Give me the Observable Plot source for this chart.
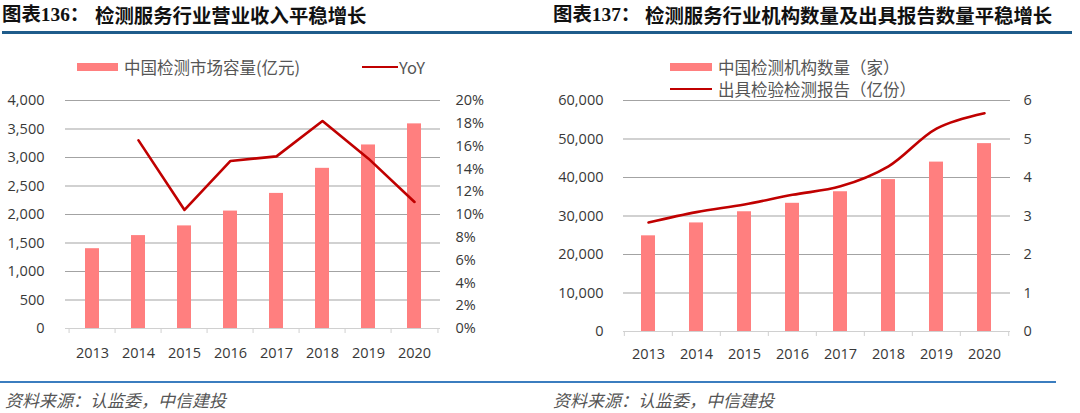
<!DOCTYPE html>
<html><head><meta charset="utf-8">
<script src="https://cdn.jsdelivr.net/npm/d3@7"></script>
<script src="https://cdn.jsdelivr.net/npm/@observablehq/plot@0.6"></script>
<style>
body{margin:0;width:1080px;height:413px;position:relative;overflow:hidden;background:#fff;font-family:"Noto Sans CJK SC",sans-serif;}
.abs{position:absolute;white-space:pre;}
.tpre{font-family:"Liberation Serif","Noto Sans CJK SC",serif;font-weight:bold;font-size:19.4px;line-height:24px;top:3px;color:#111;}
.tmain{font-family:"Noto Sans CJK SC",sans-serif;font-weight:bold;font-size:19.4px;line-height:24px;top:3px;color:#111;}
.src{font-family:"Noto Sans CJK SC",sans-serif;font-style:italic;font-size:17px;line-height:24px;top:388px;color:#555;}
.leg{font-family:"Noto Sans CJK SC",sans-serif;font-size:16.5px;line-height:22px;color:#555;}
.sw{background:#ff7f7f;height:8px;}
.ln{background:#c00000;height:2.6px;}
</style></head>
<body>
<script>
// ---- data ----
const years = ["2013","2014","2015","2016","2017","2018","2019","2020"];
// chart 136
const marketSize = [1400, 1630, 1800, 2060, 2370, 2810, 3220, 3590];
const yoyPct = [null, 16.5, 10.4, 14.7, 15.1, 18.2, 14.9, 11.1];
const sizeTicks = [0, 500, 1000, 1500, 2000, 2500, 3000, 3500, 4000];
const pctTicks = [0, 2, 4, 6, 8, 10, 12, 14, 16, 18, 20];
// chart 137
const institutions = [24850, 28200, 31100, 33300, 36300, 39450, 44000, 48800];
const reports = [2.83, 3.10, 3.30, 3.55, 3.77, 4.29, 5.27, 5.67];
const instTicks = [0, 10000, 20000, 30000, 40000, 50000, 60000];
const repTicks = [0, 1, 2, 3, 4, 5, 6];

const titles = [
  {pre: "图表136：", main: "检测服务行业营业收入平稳增长"},
  {pre: "图表137：", main: "检测服务行业机构数量及出具报告数量平稳增长"}
];
const source = "资料来源：认监委，中信建投";

function dualChart(o) {
  const width = 540, height = 285, mt = 15;
  const step = (width - o.ml - o.mr) / o.years.length;
  const tickLen = 5 * o.yMax / (height - mt - o.mb);
  const barData = o.years.map((y, i) => ({year: y, v: o.bars[i]}));
  const lineData = o.years.map((y, i) => ({year: y, v: o.line[i] == null ? null : o.line[i] * o.ratio})).filter(d => d.v != null);
  return Plot.plot({
    width, height, marginTop: mt, marginBottom: o.mb, marginLeft: o.ml, marginRight: o.mr,
    style: {fontSize: "14.5px", fontFamily: "'Open Sans', sans-serif", color: "#383838", background: "transparent"},
    x: {type: "band", domain: o.years, paddingInner: 0.7, paddingOuter: 0.35, label: null, axis: null},
    y: {domain: [0, o.yMax], label: null, axis: null},
    marks: [
      Plot.ruleY(o.leftTicks.filter(t => t > 0), {stroke: "#a3a3a3", strokeWidth: 1}),
      Plot.ruleY([0], {stroke: "#d0d0d0", strokeWidth: 1.2}),
      Plot.ruleX(o.years, {x: d => d, y1: 0, y2: -tickLen, dx: -step / 2, stroke: "#d0d0d0"}),
      Plot.ruleX(o.years.slice(-1), {x: d => d, y1: 0, y2: -tickLen, dx: step / 2, stroke: "#d0d0d0"}),
      Plot.barY(barData, {x: "year", y: "v", fill: "#ff7f7f"}),
      Plot.lineY(lineData, {x: "year", y: "v", stroke: "#c00000", strokeWidth: 2.6, curve: o.curve}),
      Plot.axisY({ticks: o.leftTicks, anchor: "left", tickSize: 0, tickPadding: o.padL, tickFormat: o.leftFmt, label: null}),
      Plot.axisY({ticks: o.rightTicks.map(t => t * o.ratio), anchor: "right", tickSize: 0, tickPadding: o.padR, tickFormat: o.rightFmt, label: null}),
      Plot.axisX({tickSize: 0, tickPadding: o.padX, label: null})
    ]
  });
}

function add(text, cls, style) {
  const d = document.createElement("div");
  d.className = "abs " + (cls || "");
  Object.assign(d.style, style || {});
  if (text != null) d.textContent = text;
  document.body.appendChild(d);
  return d;
}

// titles
add(titles[0].pre, "tpre", {left: "2px"});
add(titles[0].main, "tmain", {left: "95px"});
add(titles[1].pre, "tpre", {left: "553px"});
add(titles[1].main, "tmain", {left: "645px"});
// top rule
add(null, "", {left: "2px", top: "30.5px", width: "1070px", height: "3px", background: "#1f5c8b"});
// bottom rule
add(null, "", {left: "0px", top: "380.5px", width: "1056px", height: "2px", background: "#3b7dbf"});
// sources
add(source, "src", {left: "5px"});
add(source, "src", {left: "553px"});

// legends chart 136
add(null, "sw", {left: "77px", top: "63px", width: "41px"});
add("中国检测市场容量(亿元)", "leg", {left: "124px", top: "56px"});
add(null, "ln", {left: "362px", top: "65.7px", width: "36px"});
add("YoY", "leg", {left: "399px", top: "56px"});
// legends chart 137
add(null, "sw", {left: "670px", top: "63px", width: "42px"});
add("中国检测机构数量（家）", "leg", {left: "718px", top: "56px"});
add(null, "ln", {left: "670px", top: "87.7px", width: "42px"});
add("出具检验检测报告（亿份）", "leg", {left: "718px", top: "78px"});

const c1 = dualChart({
  years, bars: marketSize, line: yoyPct, yMax: 4000, ratio: 200,
  leftTicks: sizeTicks, rightTicks: pctTicks,
  leftFmt: d3.format(","), rightFmt: d => `${Math.round(d / 200)}%`,
  ml: 65, mr: 100, mb: 42, padL: 21, padR: 15, padX: 19, curve: "linear"
});
Object.assign(c1.style, {position: "absolute", left: "0px", top: "85px"});
document.body.appendChild(c1);

const c2 = dualChart({
  years, bars: institutions, line: reports, yMax: 60000, ratio: 10000,
  leftTicks: instTicks, rightTicks: repTicks,
  leftFmt: d3.format(","), rightFmt: d => `${Math.round(d / 10000)}`,
  ml: 83, mr: 70, mb: 39, padL: 20, padR: 13, padX: 17, curve: "catmull-rom"
});
Object.assign(c2.style, {position: "absolute", left: "540px", top: "85px"});
document.body.appendChild(c2);
</script>
</body></html>
